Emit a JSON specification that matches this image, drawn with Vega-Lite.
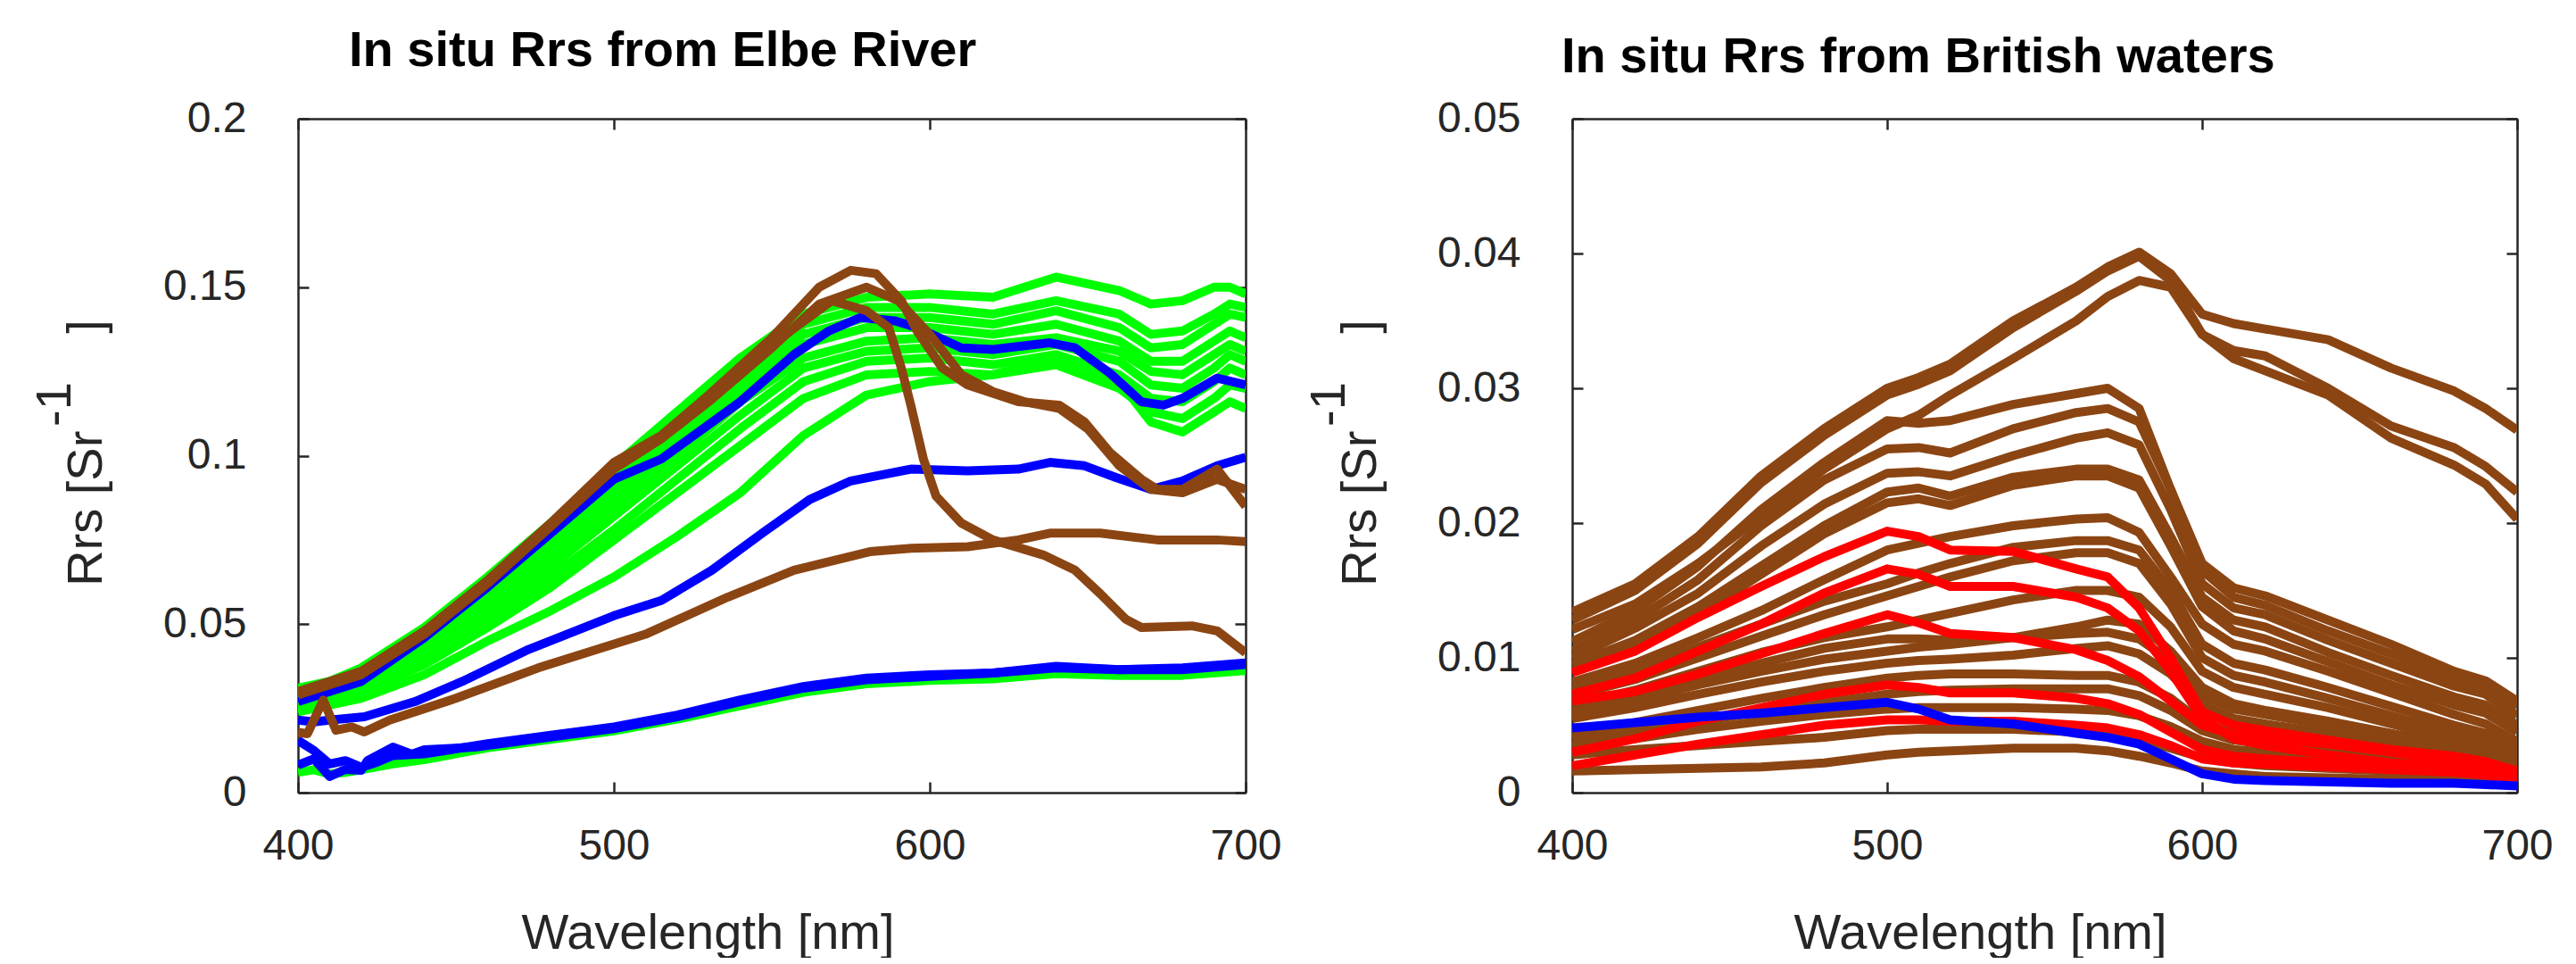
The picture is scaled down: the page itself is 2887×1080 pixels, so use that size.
{
  "$schema": "https://vega.github.io/schema/vega-lite/v6.json",
  "background": "#ffffff",
  "padding": {"left": 33, "top": 29, "right": 30, "bottom": 0},
  "bounds": "flush",
  "spacing": 366,
  "config": {
    "view": {"stroke": null},
    "font": "Liberation Sans",
    "axis": {
      "grid": false, "domainColor": "#262626", "domainWidth": 2.5, "tickColor": "#262626", "tickWidth": 2.5, "tickSize": -12,
      "labelFont": "Liberation Sans", "labelFontSize": 48, "labelColor": "#262626", "labelFlush": false, "labelOverlap": false,
      "titleFont": "Liberation Sans", "titleFontSize": 56, "titleFontWeight": "normal", "titleColor": "#262626"
    },
    "line": {"strokeWidth": 10, "strokeJoin": "round", "strokeCap": "butt"}
  },
  "datasets": {
    "elbe_green": [
      {"s":"g1","w":400,"r":0.031},{"s":"g1","w":410,"r":0.033},{"s":"g1","w":420,"r":0.037},{"s":"g1","w":440,"r":0.049},{"s":"g1","w":460,"r":0.064},{"s":"g1","w":480,"r":0.080},{"s":"g1","w":500,"r":0.097},{"s":"g1","w":520,"r":0.113},{"s":"g1","w":540,"r":0.129},{"s":"g1","w":560,"r":0.142},{"s":"g1","w":580,"r":0.147},{"s":"g1","w":600,"r":0.148},{"s":"g1","w":620,"r":0.147},{"s":"g1","w":640,"r":0.153},{"s":"g1","w":660,"r":0.149},{"s":"g1","w":670,"r":0.145},{"s":"g1","w":680,"r":0.146},{"s":"g1","w":690,"r":0.150},{"s":"g1","w":695,"r":0.150},{"s":"g1","w":700,"r":0.148},
      {"s":"g2","w":400,"r":0.030},{"s":"g2","w":410,"r":0.032},{"s":"g2","w":420,"r":0.036},{"s":"g2","w":440,"r":0.047},{"s":"g2","w":460,"r":0.061},{"s":"g2","w":480,"r":0.076},{"s":"g2","w":500,"r":0.093},{"s":"g2","w":520,"r":0.109},{"s":"g2","w":540,"r":0.125},{"s":"g2","w":560,"r":0.139},{"s":"g2","w":580,"r":0.144},{"s":"g2","w":600,"r":0.144},{"s":"g2","w":620,"r":0.142},{"s":"g2","w":640,"r":0.146},{"s":"g2","w":660,"r":0.142},{"s":"g2","w":670,"r":0.136},{"s":"g2","w":680,"r":0.137},{"s":"g2","w":690,"r":0.142},{"s":"g2","w":695,"r":0.145},{"s":"g2","w":700,"r":0.144},
      {"s":"g3","w":400,"r":0.029},{"s":"g3","w":410,"r":0.031},{"s":"g3","w":420,"r":0.035},{"s":"g3","w":440,"r":0.046},{"s":"g3","w":460,"r":0.059},{"s":"g3","w":480,"r":0.074},{"s":"g3","w":500,"r":0.090},{"s":"g3","w":520,"r":0.106},{"s":"g3","w":540,"r":0.122},{"s":"g3","w":560,"r":0.136},{"s":"g3","w":580,"r":0.141},{"s":"g3","w":600,"r":0.141},{"s":"g3","w":620,"r":0.139},{"s":"g3","w":640,"r":0.143},{"s":"g3","w":660,"r":0.138},{"s":"g3","w":670,"r":0.132},{"s":"g3","w":680,"r":0.133},{"s":"g3","w":690,"r":0.139},{"s":"g3","w":695,"r":0.142},{"s":"g3","w":700,"r":0.141},
      {"s":"g4","w":400,"r":0.028},{"s":"g4","w":410,"r":0.030},{"s":"g4","w":420,"r":0.034},{"s":"g4","w":440,"r":0.044},{"s":"g4","w":460,"r":0.057},{"s":"g4","w":480,"r":0.072},{"s":"g4","w":500,"r":0.088},{"s":"g4","w":520,"r":0.103},{"s":"g4","w":540,"r":0.119},{"s":"g4","w":560,"r":0.133},{"s":"g4","w":580,"r":0.138},{"s":"g4","w":600,"r":0.138},{"s":"g4","w":620,"r":0.136},{"s":"g4","w":640,"r":0.139},{"s":"g4","w":660,"r":0.134},{"s":"g4","w":670,"r":0.128},{"s":"g4","w":680,"r":0.128},{"s":"g4","w":690,"r":0.134},{"s":"g4","w":695,"r":0.137},{"s":"g4","w":700,"r":0.135},
      {"s":"g5","w":400,"r":0.028},{"s":"g5","w":410,"r":0.029},{"s":"g5","w":420,"r":0.033},{"s":"g5","w":440,"r":0.043},{"s":"g5","w":460,"r":0.055},{"s":"g5","w":480,"r":0.069},{"s":"g5","w":500,"r":0.085},{"s":"g5","w":520,"r":0.100},{"s":"g5","w":540,"r":0.116},{"s":"g5","w":560,"r":0.129},{"s":"g5","w":580,"r":0.134},{"s":"g5","w":600,"r":0.135},{"s":"g5","w":620,"r":0.133},{"s":"g5","w":640,"r":0.135},{"s":"g5","w":660,"r":0.131},{"s":"g5","w":670,"r":0.125},{"s":"g5","w":680,"r":0.124},{"s":"g5","w":690,"r":0.130},{"s":"g5","w":695,"r":0.133},{"s":"g5","w":700,"r":0.131},
      {"s":"g6","w":400,"r":0.027},{"s":"g6","w":410,"r":0.029},{"s":"g6","w":420,"r":0.032},{"s":"g6","w":440,"r":0.042},{"s":"g6","w":460,"r":0.053},{"s":"g6","w":480,"r":0.067},{"s":"g6","w":500,"r":0.082},{"s":"g6","w":520,"r":0.097},{"s":"g6","w":540,"r":0.112},{"s":"g6","w":560,"r":0.126},{"s":"g6","w":580,"r":0.131},{"s":"g6","w":600,"r":0.132},{"s":"g6","w":620,"r":0.130},{"s":"g6","w":640,"r":0.133},{"s":"g6","w":660,"r":0.128},{"s":"g6","w":670,"r":0.121},{"s":"g6","w":680,"r":0.120},{"s":"g6","w":690,"r":0.126},{"s":"g6","w":695,"r":0.130},{"s":"g6","w":700,"r":0.128},
      {"s":"g7","w":400,"r":0.026},{"s":"g7","w":410,"r":0.028},{"s":"g7","w":420,"r":0.031},{"s":"g7","w":440,"r":0.040},{"s":"g7","w":460,"r":0.051},{"s":"g7","w":480,"r":0.064},{"s":"g7","w":500,"r":0.078},{"s":"g7","w":520,"r":0.093},{"s":"g7","w":540,"r":0.108},{"s":"g7","w":560,"r":0.122},{"s":"g7","w":580,"r":0.128},{"s":"g7","w":600,"r":0.129},{"s":"g7","w":620,"r":0.127},{"s":"g7","w":640,"r":0.130},{"s":"g7","w":660,"r":0.124},{"s":"g7","w":670,"r":0.117},{"s":"g7","w":680,"r":0.116},{"s":"g7","w":690,"r":0.122},{"s":"g7","w":695,"r":0.126},{"s":"g7","w":700,"r":0.124},
      {"s":"g8","w":400,"r":0.025},{"s":"g8","w":410,"r":0.027},{"s":"g8","w":420,"r":0.030},{"s":"g8","w":440,"r":0.038},{"s":"g8","w":460,"r":0.049},{"s":"g8","w":480,"r":0.061},{"s":"g8","w":500,"r":0.075},{"s":"g8","w":520,"r":0.089},{"s":"g8","w":540,"r":0.103},{"s":"g8","w":560,"r":0.117},{"s":"g8","w":580,"r":0.124},{"s":"g8","w":600,"r":0.125},{"s":"g8","w":620,"r":0.124},{"s":"g8","w":640,"r":0.127},{"s":"g8","w":660,"r":0.120},{"s":"g8","w":670,"r":0.113},{"s":"g8","w":680,"r":0.111},{"s":"g8","w":690,"r":0.117},{"s":"g8","w":695,"r":0.121},{"s":"g8","w":700,"r":0.120},
      {"s":"g9","w":400,"r":0.024},{"s":"g9","w":410,"r":0.026},{"s":"g9","w":420,"r":0.028},{"s":"g9","w":440,"r":0.035},{"s":"g9","w":460,"r":0.045},{"s":"g9","w":480,"r":0.054},{"s":"g9","w":500,"r":0.064},{"s":"g9","w":520,"r":0.076},{"s":"g9","w":540,"r":0.089},{"s":"g9","w":560,"r":0.106},{"s":"g9","w":580,"r":0.118},{"s":"g9","w":600,"r":0.122},{"s":"g9","w":620,"r":0.124},{"s":"g9","w":640,"r":0.129},{"s":"g9","w":660,"r":0.122},{"s":"g9","w":670,"r":0.110},{"s":"g9","w":680,"r":0.107},{"s":"g9","w":690,"r":0.113},{"s":"g9","w":695,"r":0.116},{"s":"g9","w":700,"r":0.114},
      {"s":"gL","w":400,"r":0.0060},{"s":"gL","w":405,"r":0.0068},{"s":"gL","w":410,"r":0.0055},{"s":"gL","w":415,"r":0.0060},{"s":"gL","w":420,"r":0.0068},{"s":"gL","w":430,"r":0.0085},{"s":"gL","w":440,"r":0.0098},{"s":"gL","w":460,"r":0.0133},{"s":"gL","w":480,"r":0.0158},{"s":"gL","w":500,"r":0.0183},{"s":"gL","w":520,"r":0.0218},{"s":"gL","w":540,"r":0.0258},{"s":"gL","w":560,"r":0.0298},{"s":"gL","w":580,"r":0.0323},{"s":"gL","w":600,"r":0.0333},{"s":"gL","w":620,"r":0.0338},{"s":"gL","w":640,"r":0.0353},{"s":"gL","w":660,"r":0.0348},{"s":"gL","w":680,"r":0.0348},{"s":"gL","w":700,"r":0.0362}
    ],
    "elbe_blue": [
      {"s":"bU","w":400,"r":0.027},{"s":"bU","w":420,"r":0.033},{"s":"bU","w":440,"r":0.046},{"s":"bU","w":460,"r":0.061},{"s":"bU","w":480,"r":0.077},{"s":"bU","w":500,"r":0.093},{"s":"bU","w":515,"r":0.099},{"s":"bU","w":540,"r":0.116},{"s":"bU","w":557,"r":0.130},{"s":"bU","w":568,"r":0.137},{"s":"bU","w":578,"r":0.141},{"s":"bU","w":589,"r":0.140},{"s":"bU","w":596,"r":0.138},{"s":"bU","w":610,"r":0.132},{"s":"bU","w":620,"r":0.1315},{"s":"bU","w":638,"r":0.1335},{"s":"bU","w":646,"r":0.132},{"s":"bU","w":657,"r":0.1245},{"s":"bU","w":667,"r":0.116},{"s":"bU","w":674,"r":0.115},{"s":"bU","w":680,"r":0.117},{"s":"bU","w":691,"r":0.123},{"s":"bU","w":700,"r":0.121},
      {"s":"bM","w":400,"r":0.0215},{"s":"bM","w":405,"r":0.021},{"s":"bM","w":410,"r":0.0215},{"s":"bM","w":421,"r":0.0225},{"s":"bM","w":437,"r":0.027},{"s":"bM","w":452,"r":0.033},{"s":"bM","w":473,"r":0.0425},{"s":"bM","w":500,"r":0.0525},{"s":"bM","w":515,"r":0.057},{"s":"bM","w":531,"r":0.066},{"s":"bM","w":547,"r":0.077},{"s":"bM","w":562,"r":0.087},{"s":"bM","w":575,"r":0.0925},{"s":"bM","w":594,"r":0.096},{"s":"bM","w":612,"r":0.0955},{"s":"bM","w":628,"r":0.096},{"s":"bM","w":638,"r":0.098},{"s":"bM","w":649,"r":0.097},{"s":"bM","w":659,"r":0.0935},{"s":"bM","w":670,"r":0.090},{"s":"bM","w":680,"r":0.0925},{"s":"bM","w":691,"r":0.097},{"s":"bM","w":700,"r":0.0995},
      {"s":"bL1","w":400,"r":0.0155},{"s":"bL1","w":405,"r":0.0125},{"s":"bL1","w":410,"r":0.0085},{"s":"bL1","w":415,"r":0.0095},{"s":"bL1","w":420,"r":0.0075},{"s":"bL1","w":425,"r":0.009},{"s":"bL1","w":430,"r":0.011},{"s":"bL1","w":440,"r":0.0115},{"s":"bL1","w":460,"r":0.0145},{"s":"bL1","w":480,"r":0.017},{"s":"bL1","w":500,"r":0.0195},{"s":"bL1","w":520,"r":0.023},{"s":"bL1","w":540,"r":0.0275},{"s":"bL1","w":560,"r":0.0315},{"s":"bL1","w":580,"r":0.034},{"s":"bL1","w":600,"r":0.035},{"s":"bL1","w":620,"r":0.0355},{"s":"bL1","w":640,"r":0.0375},{"s":"bL1","w":660,"r":0.0365},{"s":"bL1","w":680,"r":0.037},{"s":"bL1","w":700,"r":0.0385},
      {"s":"bL2","w":400,"r":0.0082},{"s":"bL2","w":405,"r":0.010},{"s":"bL2","w":410,"r":0.0048},{"s":"bL2","w":415,"r":0.0069},{"s":"bL2","w":420,"r":0.0066},{"s":"bL2","w":422,"r":0.0095},{"s":"bL2","w":430,"r":0.0135},{"s":"bL2","w":436,"r":0.0114},{"s":"bL2","w":440,"r":0.0127},{"s":"bL2","w":456,"r":0.0135},{"s":"bL2","w":475,"r":0.0159},{"s":"bL2","w":500,"r":0.019},{"s":"bL2","w":520,"r":0.0225},{"s":"bL2","w":540,"r":0.027},{"s":"bL2","w":560,"r":0.031},{"s":"bL2","w":580,"r":0.0335},{"s":"bL2","w":600,"r":0.0345},{"s":"bL2","w":620,"r":0.0355},{"s":"bL2","w":640,"r":0.037},{"s":"bL2","w":660,"r":0.0365},{"s":"bL2","w":680,"r":0.0365},{"s":"bL2","w":700,"r":0.038}
    ],
    "elbe_brown": [
      {"s":"n1","w":400,"r":0.030},{"s":"n1","w":420,"r":0.036},{"s":"n1","w":440,"r":0.048},{"s":"n1","w":460,"r":0.063},{"s":"n1","w":480,"r":0.080},{"s":"n1","w":500,"r":0.098},{"s":"n1","w":515,"r":0.106},{"s":"n1","w":530,"r":0.118},{"s":"n1","w":550,"r":0.135},{"s":"n1","w":565,"r":0.150},{"s":"n1","w":575,"r":0.155},{"s":"n1","w":583,"r":0.154},{"s":"n1","w":591,"r":0.146},{"s":"n1","w":596,"r":0.137},{"s":"n1","w":604,"r":0.126},{"s":"n1","w":612,"r":0.121},{"s":"n1","w":628,"r":0.116},{"s":"n1","w":641,"r":0.115},{"s":"n1","w":649,"r":0.110},{"s":"n1","w":657,"r":0.101},{"s":"n1","w":667,"r":0.093},{"s":"n1","w":672,"r":0.090},{"s":"n1","w":680,"r":0.090},{"s":"n1","w":691,"r":0.096},{"s":"n1","w":700,"r":0.085},
      {"s":"n2","w":400,"r":0.029},{"s":"n2","w":420,"r":0.035},{"s":"n2","w":440,"r":0.047},{"s":"n2","w":460,"r":0.062},{"s":"n2","w":480,"r":0.079},{"s":"n2","w":500,"r":0.096},{"s":"n2","w":515,"r":0.105},{"s":"n2","w":530,"r":0.116},{"s":"n2","w":550,"r":0.132},{"s":"n2","w":565,"r":0.145},{"s":"n2","w":580,"r":0.150},{"s":"n2","w":590,"r":0.146},{"s":"n2","w":600,"r":0.136},{"s":"n2","w":610,"r":0.124},{"s":"n2","w":620,"r":0.119},{"s":"n2","w":630,"r":0.116},{"s":"n2","w":641,"r":0.114},{"s":"n2","w":650,"r":0.108},{"s":"n2","w":660,"r":0.097},{"s":"n2","w":670,"r":0.090},{"s":"n2","w":680,"r":0.089},{"s":"n2","w":691,"r":0.093},{"s":"n2","w":700,"r":0.090},
      {"s":"n3","w":400,"r":0.0295},{"s":"n3","w":420,"r":0.0355},{"s":"n3","w":440,"r":0.0475},{"s":"n3","w":460,"r":0.0625},{"s":"n3","w":480,"r":0.079},{"s":"n3","w":500,"r":0.097},{"s":"n3","w":515,"r":0.1055},{"s":"n3","w":530,"r":0.117},{"s":"n3","w":550,"r":0.133},{"s":"n3","w":569,"r":0.146},{"s":"n3","w":580,"r":0.143},{"s":"n3","w":587,"r":0.138},{"s":"n3","w":591,"r":0.126},{"s":"n3","w":594,"r":0.115},{"s":"n3","w":598,"r":0.099},{"s":"n3","w":602,"r":0.088},{"s":"n3","w":610,"r":0.080},{"s":"n3","w":620,"r":0.075},{"s":"n3","w":636,"r":0.0705},{"s":"n3","w":646,"r":0.066},{"s":"n3","w":654,"r":0.059},{"s":"n3","w":662,"r":0.0515},{"s":"n3","w":667,"r":0.049},{"s":"n3","w":683,"r":0.0495},{"s":"n3","w":691,"r":0.048},{"s":"n3","w":700,"r":0.0415},
      {"s":"n4","w":400,"r":0.0179},{"s":"n4","w":403,"r":0.0175},{"s":"n4","w":408,"r":0.0275},{"s":"n4","w":412,"r":0.0185},{"s":"n4","w":417,"r":0.0195},{"s":"n4","w":421,"r":0.018},{"s":"n4","w":429,"r":0.0215},{"s":"n4","w":450,"r":0.028},{"s":"n4","w":476,"r":0.037},{"s":"n4","w":510,"r":0.047},{"s":"n4","w":536,"r":0.058},{"s":"n4","w":557,"r":0.066},{"s":"n4","w":581,"r":0.0715},{"s":"n4","w":594,"r":0.0725},{"s":"n4","w":612,"r":0.073},{"s":"n4","w":628,"r":0.075},{"s":"n4","w":638,"r":0.077},{"s":"n4","w":654,"r":0.077},{"s":"n4","w":672,"r":0.075},{"s":"n4","w":691,"r":0.075},{"s":"n4","w":700,"r":0.0745}
    ],
    "brit_brown": [
      {"s":"A1","w":400,"r":0.0134},{"s":"A1","w":420,"r":0.0155},{"s":"A1","w":440,"r":0.0190},{"s":"A1","w":460,"r":0.0235},{"s":"A1","w":480,"r":0.0270},{"s":"A1","w":500,"r":0.0300},{"s":"A1","w":510,"r":0.0308},{"s":"A1","w":520,"r":0.0318},{"s":"A1","w":540,"r":0.0350},{"s":"A1","w":560,"r":0.0375},{"s":"A1","w":570,"r":0.0390},{"s":"A1","w":580,"r":0.0401},{"s":"A1","w":590,"r":0.0385},{"s":"A1","w":600,"r":0.0355},{"s":"A1","w":610,"r":0.0348},{"s":"A1","w":620,"r":0.0344},{"s":"A1","w":640,"r":0.0336},{"s":"A1","w":660,"r":0.0315},{"s":"A1","w":680,"r":0.0298},{"s":"A1","w":690,"r":0.0285},{"s":"A1","w":700,"r":0.0269},
      {"s":"A2","w":400,"r":0.0128},{"s":"A2","w":420,"r":0.0150},{"s":"A2","w":440,"r":0.0185},{"s":"A2","w":460,"r":0.0230},{"s":"A2","w":480,"r":0.0265},{"s":"A2","w":500,"r":0.0295},{"s":"A2","w":510,"r":0.0303},{"s":"A2","w":520,"r":0.0313},{"s":"A2","w":540,"r":0.0345},{"s":"A2","w":560,"r":0.0372},{"s":"A2","w":570,"r":0.0387},{"s":"A2","w":580,"r":0.0398},{"s":"A2","w":590,"r":0.0380},{"s":"A2","w":600,"r":0.0340},{"s":"A2","w":610,"r":0.0328},{"s":"A2","w":620,"r":0.0324},{"s":"A2","w":640,"r":0.0300},{"s":"A2","w":660,"r":0.0272},{"s":"A2","w":680,"r":0.0256},{"s":"A2","w":690,"r":0.0242},{"s":"A2","w":700,"r":0.0223},
      {"s":"A3","w":400,"r":0.0121},{"s":"A3","w":420,"r":0.0140},{"s":"A3","w":440,"r":0.0170},{"s":"A3","w":460,"r":0.0205},{"s":"A3","w":480,"r":0.0240},{"s":"A3","w":500,"r":0.0270},{"s":"A3","w":510,"r":0.0280},{"s":"A3","w":520,"r":0.0295},{"s":"A3","w":540,"r":0.0322},{"s":"A3","w":560,"r":0.0350},{"s":"A3","w":570,"r":0.0368},{"s":"A3","w":580,"r":0.0380},{"s":"A3","w":590,"r":0.0375},{"s":"A3","w":600,"r":0.0340},{"s":"A3","w":610,"r":0.0322},{"s":"A3","w":620,"r":0.0313},{"s":"A3","w":640,"r":0.0295},{"s":"A3","w":660,"r":0.0263},{"s":"A3","w":680,"r":0.0243},{"s":"A3","w":690,"r":0.0229},{"s":"A3","w":700,"r":0.0203},
      {"s":"B1","w":400,"r":0.0112},{"s":"B1","w":420,"r":0.0135},{"s":"B1","w":440,"r":0.0168},{"s":"B1","w":460,"r":0.0210},{"s":"B1","w":480,"r":0.0245},{"s":"B1","w":500,"r":0.0276},{"s":"B1","w":510,"r":0.0274},{"s":"B1","w":520,"r":0.0276},{"s":"B1","w":540,"r":0.0288},{"s":"B1","w":560,"r":0.0296},{"s":"B1","w":570,"r":0.0300},{"s":"B1","w":580,"r":0.0285},{"s":"B1","w":590,"r":0.0225},{"s":"B1","w":600,"r":0.0170},{"s":"B1","w":610,"r":0.0152},{"s":"B1","w":620,"r":0.0146},{"s":"B1","w":640,"r":0.0128},{"s":"B1","w":660,"r":0.0110},{"s":"B1","w":680,"r":0.0090},{"s":"B1","w":690,"r":0.0083},{"s":"B1","w":700,"r":0.0068},
      {"s":"B2","w":400,"r":0.0105},{"s":"B2","w":420,"r":0.0128},{"s":"B2","w":440,"r":0.0158},{"s":"B2","w":460,"r":0.0198},{"s":"B2","w":480,"r":0.0232},{"s":"B2","w":500,"r":0.0255},{"s":"B2","w":510,"r":0.0256},{"s":"B2","w":520,"r":0.0252},{"s":"B2","w":540,"r":0.0270},{"s":"B2","w":560,"r":0.0282},{"s":"B2","w":570,"r":0.0285},{"s":"B2","w":580,"r":0.0275},{"s":"B2","w":590,"r":0.0225},{"s":"B2","w":600,"r":0.0165},{"s":"B2","w":610,"r":0.0145},{"s":"B2","w":620,"r":0.0139},{"s":"B2","w":640,"r":0.0120},{"s":"B2","w":660,"r":0.0103},{"s":"B2","w":680,"r":0.0085},{"s":"B2","w":690,"r":0.0078},{"s":"B2","w":700,"r":0.0064},
      {"s":"B3","w":400,"r":0.0100},{"s":"B3","w":420,"r":0.0122},{"s":"B3","w":440,"r":0.0148},{"s":"B3","w":460,"r":0.0183},{"s":"B3","w":480,"r":0.0214},{"s":"B3","w":500,"r":0.0237},{"s":"B3","w":510,"r":0.0238},{"s":"B3","w":520,"r":0.0235},{"s":"B3","w":540,"r":0.0250},{"s":"B3","w":560,"r":0.0263},{"s":"B3","w":570,"r":0.0267},{"s":"B3","w":580,"r":0.0258},{"s":"B3","w":590,"r":0.0210},{"s":"B3","w":600,"r":0.0155},{"s":"B3","w":610,"r":0.0137},{"s":"B3","w":620,"r":0.0132},{"s":"B3","w":640,"r":0.0113},{"s":"B3","w":660,"r":0.0096},{"s":"B3","w":680,"r":0.0079},{"s":"B3","w":690,"r":0.0073},{"s":"B3","w":700,"r":0.0057},
      {"s":"C1","w":400,"r":0.0095},{"s":"C1","w":420,"r":0.0113},{"s":"C1","w":440,"r":0.0138},{"s":"C1","w":460,"r":0.0168},{"s":"C1","w":480,"r":0.0198},{"s":"C1","w":500,"r":0.0223},{"s":"C1","w":510,"r":0.0226},{"s":"C1","w":520,"r":0.0220},{"s":"C1","w":540,"r":0.0234},{"s":"C1","w":560,"r":0.0240},{"s":"C1","w":570,"r":0.0240},{"s":"C1","w":580,"r":0.0232},{"s":"C1","w":590,"r":0.0190},{"s":"C1","w":600,"r":0.0145},{"s":"C1","w":610,"r":0.0128},{"s":"C1","w":620,"r":0.0123},{"s":"C1","w":640,"r":0.0104},{"s":"C1","w":660,"r":0.0087},{"s":"C1","w":680,"r":0.0071},{"s":"C1","w":690,"r":0.0065},{"s":"C1","w":700,"r":0.0050},
      {"s":"C2","w":400,"r":0.0090},{"s":"C2","w":420,"r":0.0108},{"s":"C2","w":440,"r":0.0132},{"s":"C2","w":460,"r":0.0162},{"s":"C2","w":480,"r":0.0192},{"s":"C2","w":500,"r":0.0215},{"s":"C2","w":510,"r":0.0218},{"s":"C2","w":520,"r":0.0213},{"s":"C2","w":540,"r":0.0228},{"s":"C2","w":560,"r":0.0235},{"s":"C2","w":570,"r":0.0235},{"s":"C2","w":580,"r":0.0226},{"s":"C2","w":590,"r":0.0183},{"s":"C2","w":600,"r":0.0138},{"s":"C2","w":610,"r":0.0120},{"s":"C2","w":620,"r":0.0114},{"s":"C2","w":640,"r":0.0097},{"s":"C2","w":660,"r":0.0080},{"s":"C2","w":680,"r":0.0065},{"s":"C2","w":690,"r":0.0059},{"s":"C2","w":700,"r":0.0045},
      {"s":"D1","w":400,"r":0.0082},{"s":"D1","w":420,"r":0.0096},{"s":"D1","w":440,"r":0.0115},{"s":"D1","w":460,"r":0.0135},{"s":"D1","w":480,"r":0.0158},{"s":"D1","w":500,"r":0.0180},{"s":"D1","w":510,"r":0.0185},{"s":"D1","w":520,"r":0.0190},{"s":"D1","w":540,"r":0.0198},{"s":"D1","w":560,"r":0.0203},{"s":"D1","w":570,"r":0.0204},{"s":"D1","w":580,"r":0.0193},{"s":"D1","w":590,"r":0.0160},{"s":"D1","w":600,"r":0.0125},{"s":"D1","w":610,"r":0.0110},{"s":"D1","w":620,"r":0.0105},{"s":"D1","w":640,"r":0.0090},{"s":"D1","w":660,"r":0.0074},{"s":"D1","w":680,"r":0.0058},{"s":"D1","w":690,"r":0.0051},{"s":"D1","w":700,"r":0.0038},
      {"s":"E2","w":400,"r":0.0077},{"s":"E2","w":420,"r":0.0090},{"s":"E2","w":440,"r":0.0108},{"s":"E2","w":460,"r":0.0125},{"s":"E2","w":480,"r":0.0142},{"s":"E2","w":500,"r":0.0155},{"s":"E2","w":510,"r":0.0163},{"s":"E2","w":520,"r":0.0170},{"s":"E2","w":540,"r":0.0182},{"s":"E2","w":560,"r":0.0187},{"s":"E2","w":570,"r":0.0187},{"s":"E2","w":580,"r":0.0180},{"s":"E2","w":590,"r":0.0150},{"s":"E2","w":600,"r":0.0110},{"s":"E2","w":610,"r":0.0096},{"s":"E2","w":620,"r":0.0091},{"s":"E2","w":640,"r":0.0078},{"s":"E2","w":660,"r":0.0064},{"s":"E2","w":680,"r":0.0050},{"s":"E2","w":690,"r":0.0044},{"s":"E2","w":700,"r":0.0033},
      {"s":"E1","w":400,"r":0.0072},{"s":"E1","w":420,"r":0.0084},{"s":"E1","w":440,"r":0.0100},{"s":"E1","w":460,"r":0.0116},{"s":"E1","w":480,"r":0.0132},{"s":"E1","w":500,"r":0.0146},{"s":"E1","w":510,"r":0.0153},{"s":"E1","w":520,"r":0.0160},{"s":"E1","w":540,"r":0.0172},{"s":"E1","w":560,"r":0.0178},{"s":"E1","w":570,"r":0.0178},{"s":"E1","w":580,"r":0.0170},{"s":"E1","w":590,"r":0.0140},{"s":"E1","w":600,"r":0.0100},{"s":"E1","w":610,"r":0.0087},{"s":"E1","w":620,"r":0.0082},{"s":"E1","w":640,"r":0.0070},{"s":"E1","w":660,"r":0.0057},{"s":"E1","w":680,"r":0.0044},{"s":"E1","w":690,"r":0.0038},{"s":"E1","w":700,"r":0.0029},
      {"s":"F2","w":400,"r":0.0065},{"s":"F2","w":420,"r":0.0076},{"s":"F2","w":440,"r":0.0090},{"s":"F2","w":460,"r":0.0104},{"s":"F2","w":480,"r":0.0115},{"s":"F2","w":500,"r":0.0123},{"s":"F2","w":510,"r":0.0128},{"s":"F2","w":520,"r":0.0133},{"s":"F2","w":540,"r":0.0143},{"s":"F2","w":560,"r":0.0150},{"s":"F2","w":570,"r":0.0150},{"s":"F2","w":580,"r":0.0145},{"s":"F2","w":590,"r":0.0123},{"s":"F2","w":600,"r":0.0090},{"s":"F2","w":610,"r":0.0078},{"s":"F2","w":620,"r":0.0073},{"s":"F2","w":640,"r":0.0063},{"s":"F2","w":660,"r":0.0051},{"s":"F2","w":680,"r":0.0039},{"s":"F2","w":690,"r":0.0034},{"s":"F2","w":700,"r":0.0026},
      {"s":"F1","w":400,"r":0.0060},{"s":"F1","w":420,"r":0.0070},{"s":"F1","w":440,"r":0.0083},{"s":"F1","w":460,"r":0.0096},{"s":"F1","w":480,"r":0.0107},{"s":"F1","w":500,"r":0.0114},{"s":"F1","w":510,"r":0.0114},{"s":"F1","w":520,"r":0.0113},{"s":"F1","w":540,"r":0.0115},{"s":"F1","w":560,"r":0.0118},{"s":"F1","w":570,"r":0.0119},{"s":"F1","w":580,"r":0.0114},{"s":"F1","w":590,"r":0.0098},{"s":"F1","w":600,"r":0.0072},{"s":"F1","w":610,"r":0.0062},{"s":"F1","w":620,"r":0.0058},{"s":"F1","w":640,"r":0.0050},{"s":"F1","w":660,"r":0.0041},{"s":"F1","w":680,"r":0.0032},{"s":"F1","w":690,"r":0.0028},{"s":"F1","w":700,"r":0.0022},
      {"s":"G2","w":400,"r":0.0059},{"s":"G2","w":420,"r":0.0068},{"s":"G2","w":440,"r":0.0080},{"s":"G2","w":460,"r":0.0090},{"s":"G2","w":480,"r":0.0099},{"s":"G2","w":500,"r":0.0105},{"s":"G2","w":510,"r":0.0108},{"s":"G2","w":520,"r":0.0110},{"s":"G2","w":540,"r":0.0115},{"s":"G2","w":560,"r":0.0123},{"s":"G2","w":570,"r":0.0128},{"s":"G2","w":580,"r":0.0125},{"s":"G2","w":590,"r":0.0105},{"s":"G2","w":600,"r":0.0078},{"s":"G2","w":610,"r":0.0066},{"s":"G2","w":620,"r":0.0061},{"s":"G2","w":640,"r":0.0053},{"s":"G2","w":660,"r":0.0044},{"s":"G2","w":680,"r":0.0035},{"s":"G2","w":690,"r":0.0030},{"s":"G2","w":700,"r":0.0024},
      {"s":"G1","w":400,"r":0.0055},{"s":"G1","w":420,"r":0.0063},{"s":"G1","w":440,"r":0.0073},{"s":"G1","w":460,"r":0.0082},{"s":"G1","w":480,"r":0.0090},{"s":"G1","w":500,"r":0.0096},{"s":"G1","w":510,"r":0.0098},{"s":"G1","w":520,"r":0.0099},{"s":"G1","w":540,"r":0.0102},{"s":"G1","w":560,"r":0.0107},{"s":"G1","w":570,"r":0.0109},{"s":"G1","w":580,"r":0.0103},{"s":"G1","w":590,"r":0.0088},{"s":"G1","w":600,"r":0.0065},{"s":"G1","w":610,"r":0.0055},{"s":"G1","w":620,"r":0.0051},{"s":"G1","w":640,"r":0.0044},{"s":"G1","w":660,"r":0.0036},{"s":"G1","w":680,"r":0.0029},{"s":"G1","w":690,"r":0.0025},{"s":"G1","w":700,"r":0.0020},
      {"s":"H2","w":400,"r":0.0045},{"s":"H2","w":420,"r":0.0052},{"s":"H2","w":440,"r":0.0061},{"s":"H2","w":460,"r":0.0070},{"s":"H2","w":480,"r":0.0078},{"s":"H2","w":500,"r":0.0085},{"s":"H2","w":510,"r":0.0087},{"s":"H2","w":520,"r":0.0088},{"s":"H2","w":540,"r":0.0088},{"s":"H2","w":560,"r":0.0087},{"s":"H2","w":570,"r":0.0087},{"s":"H2","w":580,"r":0.0082},{"s":"H2","w":590,"r":0.0070},{"s":"H2","w":600,"r":0.0052},{"s":"H2","w":610,"r":0.0044},{"s":"H2","w":620,"r":0.0041},{"s":"H2","w":640,"r":0.0036},{"s":"H2","w":660,"r":0.0030},{"s":"H2","w":680,"r":0.0025},{"s":"H2","w":690,"r":0.0022},{"s":"H2","w":700,"r":0.0018},
      {"s":"H1","w":400,"r":0.0041},{"s":"H1","w":420,"r":0.0046},{"s":"H1","w":440,"r":0.0053},{"s":"H1","w":460,"r":0.0060},{"s":"H1","w":480,"r":0.0067},{"s":"H1","w":500,"r":0.0073},{"s":"H1","w":510,"r":0.0075},{"s":"H1","w":520,"r":0.0076},{"s":"H1","w":540,"r":0.0077},{"s":"H1","w":560,"r":0.0077},{"s":"H1","w":570,"r":0.0077},{"s":"H1","w":580,"r":0.0072},{"s":"H1","w":590,"r":0.0061},{"s":"H1","w":600,"r":0.0046},{"s":"H1","w":610,"r":0.0039},{"s":"H1","w":620,"r":0.0036},{"s":"H1","w":640,"r":0.0032},{"s":"H1","w":660,"r":0.0027},{"s":"H1","w":680,"r":0.0022},{"s":"H1","w":690,"r":0.0020},{"s":"H1","w":700,"r":0.0016},
      {"s":"H0","w":400,"r":0.0035},{"s":"H0","w":420,"r":0.0040},{"s":"H0","w":440,"r":0.0047},{"s":"H0","w":460,"r":0.0053},{"s":"H0","w":480,"r":0.0058},{"s":"H0","w":500,"r":0.0062},{"s":"H0","w":510,"r":0.0063},{"s":"H0","w":520,"r":0.0063},{"s":"H0","w":540,"r":0.0063},{"s":"H0","w":560,"r":0.0062},{"s":"H0","w":570,"r":0.0061},{"s":"H0","w":580,"r":0.0057},{"s":"H0","w":590,"r":0.0049},{"s":"H0","w":600,"r":0.0038},{"s":"H0","w":610,"r":0.0032},{"s":"H0","w":620,"r":0.0030},{"s":"H0","w":640,"r":0.0027},{"s":"H0","w":660,"r":0.0023},{"s":"H0","w":680,"r":0.0019},{"s":"H0","w":690,"r":0.0017},{"s":"H0","w":700,"r":0.0014},
      {"s":"I2","w":400,"r":0.0028},{"s":"I2","w":420,"r":0.0032},{"s":"I2","w":440,"r":0.0035},{"s":"I2","w":460,"r":0.0038},{"s":"I2","w":480,"r":0.0041},{"s":"I2","w":500,"r":0.0046},{"s":"I2","w":510,"r":0.0047},{"s":"I2","w":520,"r":0.0047},{"s":"I2","w":540,"r":0.0047},{"s":"I2","w":560,"r":0.0045},{"s":"I2","w":570,"r":0.0043},{"s":"I2","w":580,"r":0.0039},{"s":"I2","w":590,"r":0.0033},{"s":"I2","w":600,"r":0.0026},{"s":"I2","w":610,"r":0.0022},{"s":"I2","w":620,"r":0.0020},{"s":"I2","w":640,"r":0.0018},{"s":"I2","w":660,"r":0.0016},{"s":"I2","w":680,"r":0.0014},{"s":"I2","w":690,"r":0.0013},{"s":"I2","w":700,"r":0.0012},
      {"s":"I1","w":400,"r":0.0016},{"s":"I1","w":420,"r":0.0017},{"s":"I1","w":440,"r":0.0018},{"s":"I1","w":460,"r":0.0019},{"s":"I1","w":480,"r":0.0022},{"s":"I1","w":500,"r":0.0028},{"s":"I1","w":510,"r":0.0030},{"s":"I1","w":520,"r":0.0031},{"s":"I1","w":540,"r":0.0033},{"s":"I1","w":560,"r":0.0033},{"s":"I1","w":570,"r":0.0031},{"s":"I1","w":580,"r":0.0027},{"s":"I1","w":590,"r":0.0022},{"s":"I1","w":600,"r":0.0016},{"s":"I1","w":610,"r":0.0014},{"s":"I1","w":620,"r":0.0012},{"s":"I1","w":640,"r":0.0011},{"s":"I1","w":660,"r":0.0010},{"s":"I1","w":680,"r":0.0010},{"s":"I1","w":690,"r":0.0009},{"s":"I1","w":700,"r":0.0008}
    ],
    "brit_red": [
      {"s":"R1","w":400,"r":0.0089},{"s":"R1","w":420,"r":0.0105},{"s":"R1","w":440,"r":0.0130},{"s":"R1","w":460,"r":0.0153},{"s":"R1","w":480,"r":0.0175},{"s":"R1","w":500,"r":0.0194},{"s":"R1","w":510,"r":0.0190},{"s":"R1","w":520,"r":0.0180},{"s":"R1","w":540,"r":0.0179},{"s":"R1","w":560,"r":0.0166},{"s":"R1","w":570,"r":0.0160},{"s":"R1","w":580,"r":0.0137},{"s":"R1","w":590,"r":0.0100},{"s":"R1","w":600,"r":0.0060},{"s":"R1","w":610,"r":0.0050},{"s":"R1","w":620,"r":0.0046},{"s":"R1","w":640,"r":0.0039},{"s":"R1","w":660,"r":0.0032},{"s":"R1","w":680,"r":0.0027},{"s":"R1","w":690,"r":0.0023},{"s":"R1","w":700,"r":0.0016},
      {"s":"R2","w":400,"r":0.0073},{"s":"R2","w":420,"r":0.0085},{"s":"R2","w":440,"r":0.0105},{"s":"R2","w":460,"r":0.0125},{"s":"R2","w":480,"r":0.0148},{"s":"R2","w":500,"r":0.0166},{"s":"R2","w":510,"r":0.0162},{"s":"R2","w":520,"r":0.0153},{"s":"R2","w":540,"r":0.0153},{"s":"R2","w":560,"r":0.0145},{"s":"R2","w":570,"r":0.0137},{"s":"R2","w":580,"r":0.0120},{"s":"R2","w":590,"r":0.0090},{"s":"R2","w":600,"r":0.0055},{"s":"R2","w":610,"r":0.0040},{"s":"R2","w":620,"r":0.0035},{"s":"R2","w":640,"r":0.0028},{"s":"R2","w":660,"r":0.0022},{"s":"R2","w":680,"r":0.0019},{"s":"R2","w":690,"r":0.0016},{"s":"R2","w":700,"r":0.0012},
      {"s":"R3","w":400,"r":0.0068},{"s":"R3","w":420,"r":0.0075},{"s":"R3","w":440,"r":0.0088},{"s":"R3","w":460,"r":0.0103},{"s":"R3","w":480,"r":0.0118},{"s":"R3","w":500,"r":0.0132},{"s":"R3","w":510,"r":0.0126},{"s":"R3","w":520,"r":0.0118},{"s":"R3","w":540,"r":0.0115},{"s":"R3","w":560,"r":0.0106},{"s":"R3","w":570,"r":0.0098},{"s":"R3","w":580,"r":0.0086},{"s":"R3","w":590,"r":0.0068},{"s":"R3","w":600,"r":0.0050},{"s":"R3","w":610,"r":0.0043},{"s":"R3","w":620,"r":0.0040},{"s":"R3","w":640,"r":0.0036},{"s":"R3","w":660,"r":0.0030},{"s":"R3","w":680,"r":0.0023},{"s":"R3","w":690,"r":0.0020},{"s":"R3","w":700,"r":0.0014},
      {"s":"R4","w":400,"r":0.0030},{"s":"R4","w":420,"r":0.0040},{"s":"R4","w":440,"r":0.0053},{"s":"R4","w":460,"r":0.0063},{"s":"R4","w":480,"r":0.0073},{"s":"R4","w":500,"r":0.0080},{"s":"R4","w":510,"r":0.0078},{"s":"R4","w":520,"r":0.0074},{"s":"R4","w":540,"r":0.0074},{"s":"R4","w":560,"r":0.0070},{"s":"R4","w":570,"r":0.0066},{"s":"R4","w":580,"r":0.0058},{"s":"R4","w":590,"r":0.0045},{"s":"R4","w":600,"r":0.0032},{"s":"R4","w":610,"r":0.0027},{"s":"R4","w":620,"r":0.0025},{"s":"R4","w":640,"r":0.0022},{"s":"R4","w":660,"r":0.0018},{"s":"R4","w":680,"r":0.0015},{"s":"R4","w":690,"r":0.0013},{"s":"R4","w":700,"r":0.0009},
      {"s":"R5","w":400,"r":0.0020},{"s":"R5","w":420,"r":0.0028},{"s":"R5","w":440,"r":0.0036},{"s":"R5","w":460,"r":0.0043},{"s":"R5","w":480,"r":0.0050},{"s":"R5","w":500,"r":0.0054},{"s":"R5","w":510,"r":0.0054},{"s":"R5","w":520,"r":0.0053},{"s":"R5","w":540,"r":0.0053},{"s":"R5","w":560,"r":0.0050},{"s":"R5","w":570,"r":0.0048},{"s":"R5","w":580,"r":0.0043},{"s":"R5","w":590,"r":0.0035},{"s":"R5","w":600,"r":0.0025},{"s":"R5","w":610,"r":0.0022},{"s":"R5","w":620,"r":0.0021},{"s":"R5","w":640,"r":0.0019},{"s":"R5","w":660,"r":0.0017},{"s":"R5","w":680,"r":0.0015},{"s":"R5","w":690,"r":0.0014},{"s":"R5","w":700,"r":0.0011}
    ],
    "brit_blue": [
      {"s":"U1","w":400,"r":0.0048},{"s":"U1","w":420,"r":0.0052},{"s":"U1","w":440,"r":0.0056},{"s":"U1","w":460,"r":0.0059},{"s":"U1","w":480,"r":0.0063},{"s":"U1","w":500,"r":0.0067},{"s":"U1","w":510,"r":0.0062},{"s":"U1","w":520,"r":0.0054},{"s":"U1","w":540,"r":0.0051},{"s":"U1","w":560,"r":0.0044},{"s":"U1","w":570,"r":0.0041},{"s":"U1","w":580,"r":0.0036},{"s":"U1","w":590,"r":0.0025},{"s":"U1","w":600,"r":0.0014},{"s":"U1","w":610,"r":0.0010},{"s":"U1","w":620,"r":0.0009},{"s":"U1","w":640,"r":0.0008},{"s":"U1","w":660,"r":0.0007},{"s":"U1","w":680,"r":0.0007},{"s":"U1","w":690,"r":0.0006},{"s":"U1","w":700,"r":0.0005}
    ]
  },
  "hconcat": [
    {
      "width": 1062, "height": 755,
      "title": {"text": "In situ Rrs from Elbe River", "anchor": "start", "frame": "group", "dx": 57, "offset": -21, "baseline": "alphabetic", "fontSize": 56, "fontWeight": "bold", "font": "Liberation Sans", "color": "#000000"},
      "layer": [
        {
          "data": {"name": "elbe_green"},
          "mark": {"type": "line", "color": "#00ff00", "clip": true},
          "encoding": {
            "x": {"field": "w", "type": "quantitative", "scale": {"domain": [400, 700], "nice": false, "zero": false},
                  "axis": {"orient": "bottom", "values": [400, 500, 600, 700], "format": "d", "labelPadding": 86, "labelBaseline": "alphabetic", "title": "Wavelength [nm]", "titleX": 459, "titleY": 174, "titleBaseline": "alphabetic", "titleAlign": "center"}},
            "y": {"field": "r", "type": "quantitative", "scale": {"domain": [0, 0.2], "nice": false, "zero": false},
                  "axis": {"orient": "left", "values": [0, 0.05, 0.1, 0.15, 0.2], "format": "~g", "labelPadding": 70, "title": ["\u200b\u00a0\u00a0\u00a0\u00a0\u00a0\u00a0\u00a0-1", "Rrs [Sr\u00a0\u00a0\u00a0\u00a0\u00a0\u00a0\u00a0]"], "titleX": -256, "titleY": 374, "titleAngle": 270, "titleAlign": "center", "titleBaseline": "alphabetic", "titleLineHeight": 35}},
            "detail": {"field": "s"}
          }
        },
        {
          "data": {"name": "elbe_blue"},
          "mark": {"type": "line", "color": "#0000ff", "clip": true},
          "encoding": {
            "x": {"field": "w", "type": "quantitative", "scale": {"domain": [400, 700], "nice": false, "zero": false},
                  "axis": {"orient": "top", "values": [400, 500, 600, 700], "labels": false, "title": null}},
            "y": {"field": "r", "type": "quantitative", "scale": {"domain": [0, 0.2], "nice": false, "zero": false},
                  "axis": {"orient": "right", "values": [0, 0.05, 0.1, 0.15, 0.2], "labels": false, "title": null}},
            "detail": {"field": "s"}
          }
        },
        {
          "data": {"name": "elbe_brown"},
          "mark": {"type": "line", "color": "#8b4513", "clip": true},
          "encoding": {
            "x": {"field": "w", "type": "quantitative", "scale": {"domain": [400, 700], "nice": false, "zero": false}, "axis": null},
            "y": {"field": "r", "type": "quantitative", "scale": {"domain": [0, 0.2], "nice": false, "zero": false}, "axis": null},
            "detail": {"field": "s"}
          }
        }
      ]
    },
    {
      "width": 1059, "height": 755,
      "title": {"text": "In situ Rrs from British waters", "anchor": "start", "frame": "group", "dx": -12, "offset": -28, "baseline": "alphabetic", "fontSize": 56, "fontWeight": "bold", "font": "Liberation Sans", "color": "#000000"},
      "layer": [
        {
          "data": {"name": "brit_brown"},
          "mark": {"type": "line", "color": "#8b4513", "clip": true},
          "encoding": {
            "x": {"field": "w", "type": "quantitative", "scale": {"domain": [400, 700], "nice": false, "zero": false},
                  "axis": {"orient": "bottom", "values": [400, 500, 600, 700], "format": "d", "labelPadding": 86, "labelBaseline": "alphabetic", "title": "Wavelength [nm]", "titleX": 457, "titleY": 174, "titleBaseline": "alphabetic", "titleAlign": "center"}},
            "y": {"field": "r", "type": "quantitative", "scale": {"domain": [0, 0.05], "nice": false, "zero": false},
                  "axis": {"orient": "left", "values": [0, 0.01, 0.02, 0.03, 0.04, 0.05], "format": "~g", "labelPadding": 70, "title": ["\u200b\u00a0\u00a0\u00a0\u00a0\u00a0\u00a0\u00a0-1", "Rrs [Sr\u00a0\u00a0\u00a0\u00a0\u00a0\u00a0\u00a0]"], "titleX": -256, "titleY": 374, "titleAngle": 270, "titleAlign": "center", "titleBaseline": "alphabetic", "titleLineHeight": 35}},
            "detail": {"field": "s"}
          }
        },
        {
          "data": {"name": "brit_red"},
          "mark": {"type": "line", "color": "#ff0000", "clip": true},
          "encoding": {
            "x": {"field": "w", "type": "quantitative", "scale": {"domain": [400, 700], "nice": false, "zero": false},
                  "axis": {"orient": "top", "values": [400, 500, 600, 700], "labels": false, "title": null}},
            "y": {"field": "r", "type": "quantitative", "scale": {"domain": [0, 0.05], "nice": false, "zero": false},
                  "axis": {"orient": "right", "values": [0, 0.01, 0.02, 0.03, 0.04, 0.05], "labels": false, "title": null}},
            "detail": {"field": "s"}
          }
        },
        {
          "data": {"name": "brit_blue"},
          "mark": {"type": "line", "color": "#0000ff", "clip": true},
          "encoding": {
            "x": {"field": "w", "type": "quantitative", "scale": {"domain": [400, 700], "nice": false, "zero": false}, "axis": null},
            "y": {"field": "r", "type": "quantitative", "scale": {"domain": [0, 0.05], "nice": false, "zero": false}, "axis": null},
            "detail": {"field": "s"}
          }
        }
      ]
    }
  ]
}
